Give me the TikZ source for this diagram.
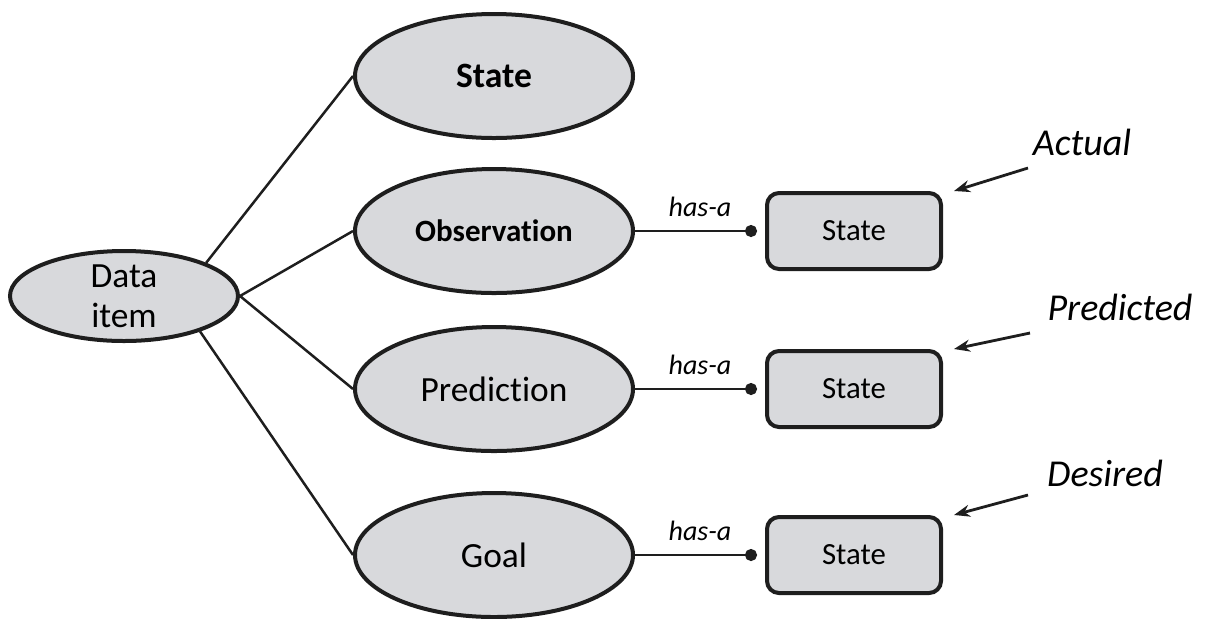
\documentclass[tikz,border=0pt]{standalone}
\usepackage{fontspec}
\setmainfont[Ligatures={NoCommon}]{Carlito}
\usetikzlibrary{shapes.geometric,arrows.meta}
\definecolor{bubble}{RGB}{216,217,220}
\definecolor{ink}{RGB}{30,30,30}

\begin{document}
\begin{tikzpicture}[x=0.5pt,y=-0.5pt,
        blob/.style={ellipse,draw=ink,line width=2pt,fill=bubble,inner sep=0pt,
            minimum width=139pt,minimum height=62pt,
            font=\fontsize{17.7}{20}\selectfont},
        statebox/.style={rectangle,rounded corners=6pt,draw=ink,line width=2pt,
            fill=bubble,minimum width=87pt,minimum height=38pt,
            font=\fontsize{15.4}{18}\selectfont},
        link/.style={draw=ink,line width=1.25pt},
        hasa/.style={link,-{Circle[length=6pt]},shorten >=4pt},
        hasalabel/.style={midway,above=3pt,font=\fontsize{14}{16}\selectfont\itshape},
        tag/.style={font=\fontsize{19}{22}\selectfont\itshape},
        pointer/.style={link,line width=1.4pt,-{Stealth[length=8pt,width=6pt]}}]
    \useasboundingbox (0,0) rectangle (1208,618);

    % left side
    \node[blob,minimum width=114pt,minimum height=45pt,align=center] (data) at (124,296) {Data\\item};
    \node[blob,font=\fontsize{17.8}{20}\selectfont\bfseries] (state) at (494,76) {State};
    \node[blob,font=\fontsize{15.5}{18}\selectfont\bfseries] (obs) at (494,231) {Observation};
    \node[blob] (pred) at (494,389) {Prediction};
    \node[blob] (goal) at (494,555) {Goal};
    \draw[link] (data.22) -- (state.west)
        (data.east) -- (obs.west)
        (data.east) -- (pred.west)
        (data.-25) -- (goal.west);

    % right side
    \node[statebox] (actualbox) at (854,231) {State};
    \node[statebox] (predbox) at (854,389) {State};
    \node[statebox] (goalbox) at (854,555) {State};
    \draw[hasa] (obs.east) -- (actualbox.west) node[hasalabel] {has-a};
    \draw[hasa] (pred.east) -- (predbox.west) node[hasalabel] {has-a};
    \draw[hasa] (goal.east) -- (goalbox.west) node[hasalabel] {has-a};

    \node[tag] (actual) at (1082,142) {Actual};
    \node[tag] (predicted) at (1120,307) {Predicted};
    \node[tag] (desired) at (1105,473) {Desired};
    \coordinate (actualtail) at (1028,168);
    \coordinate (predtail) at (1030,333);
    \coordinate (desiredtail) at (1028,495);
    \draw[pointer] (actualtail) -- ([xshift=5.5pt]actualbox.north east);
    \draw[pointer] (predtail) -- ([xshift=5.5pt]predbox.north east);
    \draw[pointer] (desiredtail) -- ([xshift=5.5pt]goalbox.north east);
\end{tikzpicture}
\end{document}
